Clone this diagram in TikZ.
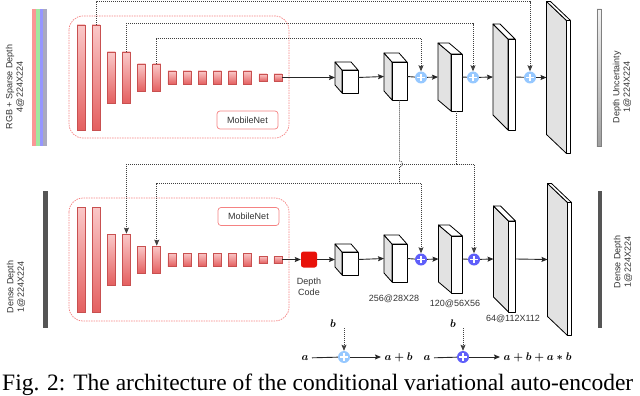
\documentclass[tikz,border=0pt]{standalone}
\usepackage{amsmath,amssymb}
\usepackage{fontspec}
\setmainfont{Liberation Serif}
\setsansfont{Liberation Sans}
\usepackage{tikz}
\usetikzlibrary{arrows.meta,positioning,calc}
\definecolor{savfel}{RGB}{250,200,200}
\definecolor{savle}{RGB}{228,96,96}
\definecolor{savkeret}{RGB}{200,80,80}
\definecolor{mnpiros}{RGB}{245,130,130}
\definecolor{oldal}{RGB}{226,226,226}
\definecolor{pluszvil}{RGB}{150,200,255}
\definecolor{pluszsot}{RGB}{95,95,250}
\definecolor{kodpiros}{RGB}{232,18,10}
\definecolor{sotetsav}{RGB}{85,85,85}
\definecolor{cs1}{RGB}{250,150,150}
\definecolor{cs2}{RGB}{160,232,160}
\definecolor{cs3}{RGB}{150,150,255}
\definecolor{cs4}{RGB}{170,170,190}
\tikzset{
  reteg/.style={draw=savkeret,top color=savfel,bottom color=savle,minimum width=8,inner sep=0,line width=0.6},
  lap/.style={draw=black,line width=0.8,line join=round},
  nyil/.style={-{Stealth[length=6pt,width=5pt,inset=1pt]}},
  foly/.style={draw=black!85,line width=0.9},
  szagg/.style={draw=black!75,line width=0.8,dash pattern=on 1pt off 1pt},
  osszA/.style={circle,fill=pluszvil,minimum size=12,inner sep=0,
    path picture={\draw[white,line width=1.1]
      ([xshift=-3.8pt]path picture bounding box.center) -- ([xshift=3.8pt]path picture bounding box.center)
      ([yshift=-3.8pt]path picture bounding box.center) -- ([yshift=3.8pt]path picture bounding box.center);}},
  osszB/.style={osszA,fill=pluszsot},
  felirat/.style={font=\sffamily\fontsize{9}{10.5}\selectfont,align=center,text=black!80},
  mnkeret/.style={draw=mnpiros,dash pattern=on 1.5pt off 1pt,rounded corners=14,line width=0.7},
  mnfel/.style={draw=mnpiros,fill=white,rounded corners=3,minimum width=61,minimum height=18,
    line width=0.7,font=\sffamily\fontsize{9}{10}\selectfont,text=black!80},
  sotet/.style={fill=sotetsav,inner sep=0},
  jel/.style={font=\fontsize{11}{12}\selectfont},
}
% kocka: nev, kozep x, kozep y, szel, mag, mely x, mely y
\newcommand{\kocka}[7]{%
  \pgfmathsetmacro{\kxl}{#2+#6/2-#4/2}
  \pgfmathsetmacro{\kxr}{#2+#6/2+#4/2}
  \pgfmathsetmacro{\kyt}{#3+#7/2-#5/2}
  \pgfmathsetmacro{\kyb}{#3+#7/2+#5/2}
  \filldraw[lap,fill=oldal] (\kxl,\kyt) -- ++(-#6,-#7) -- ++(0,#5) -- (\kxl,\kyb) -- cycle;
  \filldraw[lap,fill=white] (\kxl,\kyt) -- ++(-#6,-#7) -- ++(#4,0) -- (\kxr,\kyt) -- cycle;
  \node[lap,fill=white,minimum width=#4,minimum height=#5,inner sep=0] (#1) at ({#2+#6/2},{#3+#7/2}) {};
  \coordinate (#1-l) at ({\kxl-#6},#3);
  \coordinate (#1-r) at (\kxr,#3);
}

\begin{document}
\begin{tikzpicture}[x=1pt,y=-1pt]
  \useasboundingbox (0,0) rectangle (640,396);
  % bemenetek
  \foreach \c [count=\k] in {cs1,cs2,cs3,cs4}
    \fill[\c] ({32+3.75*(\k-1)},9) rectangle ++(3.75,137);
  \node[sotet,minimum width=5,minimum height=137] (be2) at (45.5,259.5) {};
  \node[felirat,rotate=90] (tbe1) at (15,87) {RGB + Sparse Depth\\4@224X224};
  \node[felirat,rotate=90] (tbe2) at (16,287) {Dense Depth\\1@224X224};

  % MobileNet enkoderek
  \draw[mnkeret] (69,16) rectangle (289,138);
  \draw[mnkeret] (69,198) rectangle (289,321);
  \node[mnfel] (mn1) at (247.5,120) {MobileNet};
  \node[mnfel] (mn2) at (248.5,216.5) {MobileNet};
  \foreach \i/\h in {1/105,2/105,3/51,4/51,5/27,6/27,7/13,8/13,9/13,10/13,11/13,12/13,13/7,14/7}{
    \node[reteg,minimum height=\h] (f\i) at ({81+15.15*(\i-1)},77.5) {};
    \node[reteg,minimum height=\h] (a\i) at ({81+15.15*(\i-1)},259.5) {};
  }

  % dekoderek
  \kocka{fk1}{346.5}{77.5}{16}{23}{7}{8}
  \kocka{fk2}{395.5}{76.5}{15}{38}{8}{9}
  \kocka{fk3}{450}{77}{11}{57}{13}{11}
  \kocka{fk4}{504}{77}{7}{91}{15}{15}
  \kocka{fk5}{558.5}{77.5}{4}{133}{20}{19}
  \kocka{ak1}{346.5}{259.5}{16}{23}{7}{8}
  \kocka{ak2}{395.5}{258.5}{15}{38}{8}{9}
  \kocka{ak3}{450.5}{259}{11}{57}{13}{11}
  \kocka{ak4}{504.5}{259}{7}{91}{15}{15}
  \kocka{ak5}{559.5}{259.5}{4}{133}{20}{19}
  \node[osszA] (fp1) at (421,77.5) {};
  \node[osszA] (fp2) at (473,77.5) {};
  \node[osszA] (fp3) at (530,77.5) {};
  \node[osszB] (ap1) at (421,259.5) {};
  \node[osszB] (ap2) at (474,259.5) {};
  \node[draw=gray,top color=gray!10,bottom color=gray!75,minimum width=4.5,minimum height=137,inner sep=0] (ki1) at (599,77.5) {};
  \node[sotet,minimum width=4.5,minimum height=137] (ki2) at (600,259.5) {};
  \node[felirat,rotate=90] (tki1) at (622,87) {Depth Uncertainty\\1@224X224};
  \node[felirat,rotate=90] (tki2) at (623,262) {Dense Depth\\1@224X224};
  \node[fill=kodpiros,rounded corners=2.5,minimum size=16,inner sep=0] (dk) at (309,259.5) {};
  \node[felirat] (tdk) at (309,287) {Depth\\Code};
  \node[felirat] (tak2) at (394,298.5) {256@28X28};
  \node[felirat] (tak3) at (455,303.5) {120@56X56};
  \node[felirat] (tak4) at (513,319) {64@112X112};

  % fo ag
  \draw[foly,nyil] (f14) -- (fk1-l);
  \draw[foly,nyil] (fk1-r) -- (fk2-l);
  \draw[foly] (fk2-r) -- (fp1);
  \draw[foly,nyil] (fp1) -- (fk3-l);
  \draw[foly] (fk3-r) -- (fp2);
  \draw[foly,nyil] (fp2) -- (fk4-l);
  \draw[foly] (fk4-r) -- (fp3);
  \draw[foly,nyil] (fp3) -- (fk5-l);
  \draw[foly,nyil] (a14) -- (dk);
  \draw[foly,nyil] (dk) -- (ak1-l);
  \draw[foly,nyil] (ak1-r) -- (ak2-l);
  \draw[foly] (ak2-r) -- (ap1);
  \draw[foly,nyil] (ap1) -- (ak3-l);
  \draw[foly] (ak3-r) -- (ap2);
  \draw[foly,nyil] (ap2) -- (ak4-l);
  \draw[foly,nyil] (ak4-r) -- (ak5-l);

  % atugro kapcsolatok
  \draw[szagg,nyil] (f2.north) -- ++(0,-23) -| (fp3.north);
  \draw[szagg,nyil] (f4.north) -- ++(0,-28) -| (fp2.north);
  \draw[szagg,nyil] (f6.north) -- ++(0,-25) -| (fp1.north);
  \coordinate (e2) at (399.5,183);
  \coordinate (e3) at (456.5,164);
  \draw[szagg] (fk2.south) -- (399.5,161) arc[start angle=90,end angle=-90,radius=3pt] -- (e2);
  \draw[szagg,nyil] (e2) -| (a6.north);
  \draw[szagg,nyil] (e2) -| (ap1.north);
  \draw[szagg] (fk3.south) -- (e3);
  \draw[szagg,nyil] (e3) -| (a4.north);
  \draw[szagg,nyil] (e3) -| (ap2.north);

  % jelmagyarazat
  \node[jel] (lb1) at (333,324) {$\boldsymbol{b}$};
  \coordinate (lt1) at (344,328);
  \node[osszA] (lp1) at (344,357) {};
  \node[jel] (la1) at (305,358) {$\boldsymbol{a}$};
  \node[jel,anchor=west] (lo1) at (381,357) {$\boldsymbol{a+b}$};
  \draw[szagg,nyil] (lt1) -- (lp1);
  \draw[foly] (la1) -- (lp1);
  \draw[foly,nyil] (lp1) -- (lo1);
  \node[jel] (lb2) at (453,324) {$\boldsymbol{b}$};
  \coordinate (lt2) at (463,328);
  \node[osszB] (lp2) at (463,357) {};
  \node[jel] (la2) at (427,358) {$\boldsymbol{a}$};
  \node[jel,anchor=west] (lo2) at (500,357) {$\boldsymbol{a+b+a*b}$};
  \draw[szagg,nyil] (lt2) -- (lp2);
  \draw[foly] (la2) -- (lp2);
  \draw[foly,nyil] (lp2) -- (lo2);

  \node[anchor=base west,inner sep=0,font=\fontsize{23.5}{28}\selectfont] (cap) at (2,390.5)
    {Fig. 2: The architecture of the conditional variational auto-encoder};
\end{tikzpicture}
\end{document}
